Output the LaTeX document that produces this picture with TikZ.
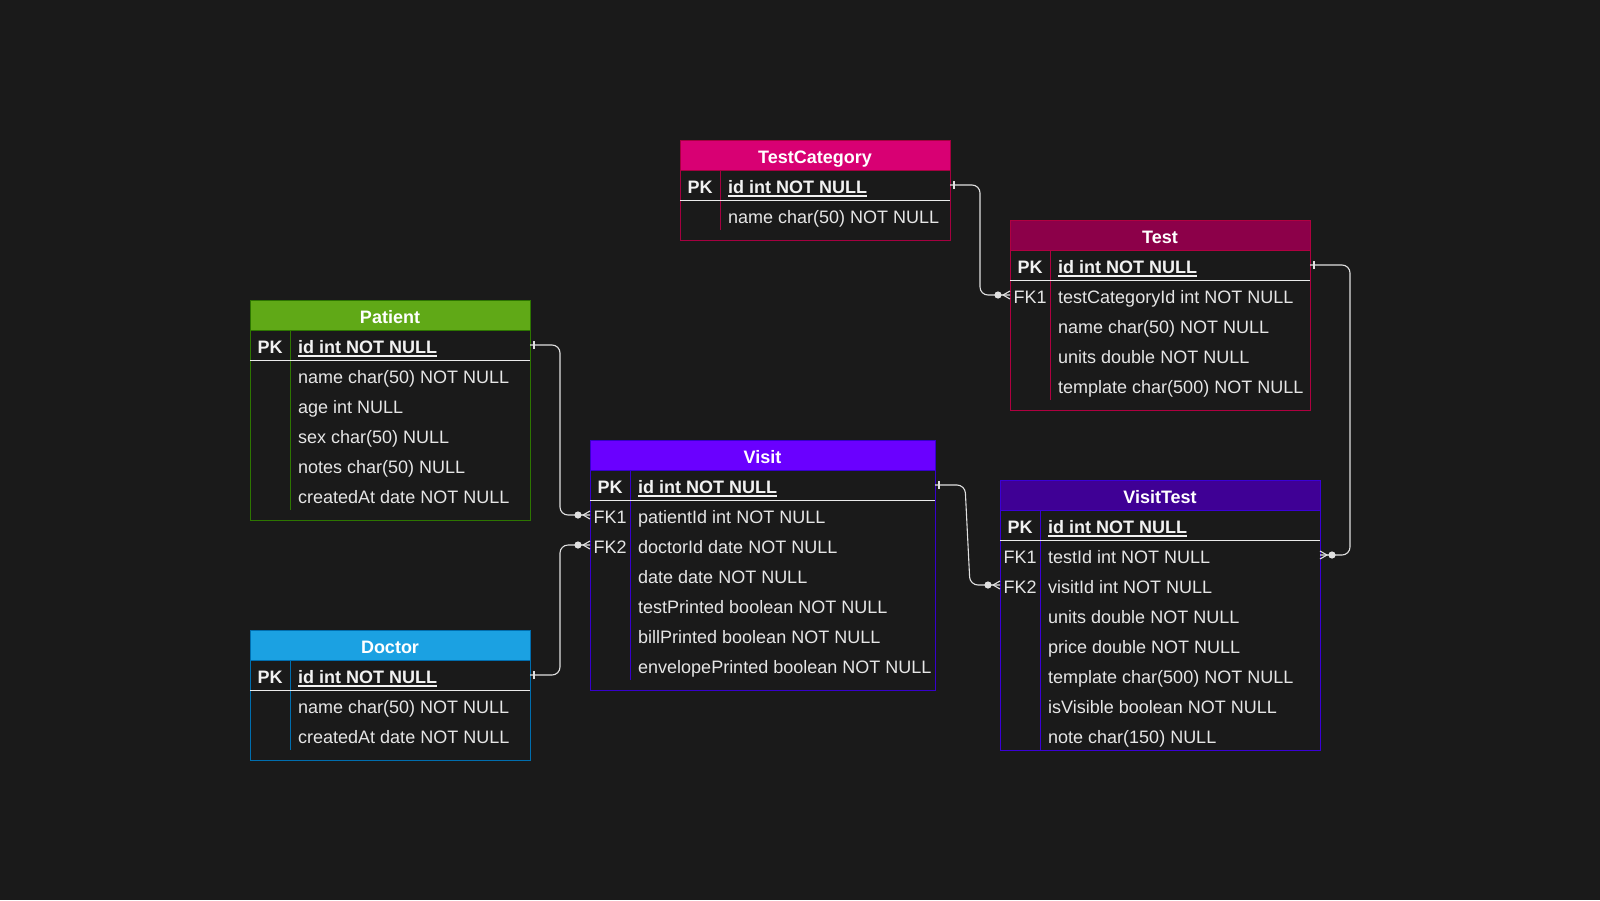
\documentclass[tikz,border=0pt]{standalone}
\usepackage{fontspec}
\setmainfont{Liberation Sans}
\usetikzlibrary{calc}
\definecolor{bgc}{HTML}{1A1A1A}
\definecolor{txtc}{HTML}{E6E6E6}
\definecolor{connc}{HTML}{E0E0E0}
\definecolor{tcfill}{HTML}{D80073}\definecolor{tcline}{HTML}{A50040}
\definecolor{testfill}{HTML}{8C0049}\definecolor{testline}{HTML}{B00040}
\definecolor{patientfill}{HTML}{60A917}\definecolor{patientline}{HTML}{2D7600}
\definecolor{doctorfill}{HTML}{1BA1E2}\definecolor{doctorline}{HTML}{006EAF}
\definecolor{visitfill}{HTML}{6A00FF}\definecolor{visitline}{HTML}{3700CC}
\definecolor{vtfill}{HTML}{3F0095}\definecolor{vtline}{HTML}{3A00D6}
\newcommand\pkul[1]{\setbox0=\hbox{#1}\rlap{\rule[-3.6pt]{\wd0}{1.8pt}}\box0}
\tikzset{
  rowbox/.style={minimum height=30pt, inner sep=0pt, outer sep=0pt, anchor=north west},
  hdrtxt/.style={anchor=base, inner sep=0pt, text=white, font=\fontsize{18}{21.6}\selectfont\bfseries},
  keytxt/.style={anchor=base, inner sep=0pt, text=txtc, font=\fontsize{18}{21.6}\selectfont},
  keybold/.style={anchor=base, inner sep=0pt, text=white!95!black, font=\fontsize{18}{21.6}\selectfont\bfseries},
  pktxt/.style={anchor=base west, inner sep=0pt, text=white!95!black, font=\fontsize{18}{21.6}\selectfont\bfseries},
  fldtxt/.style={anchor=base west, inner sep=0pt, text=txtc, font=\fontsize{18}{21.6}\selectfont},
  sepline/.style={draw=white!92!black, line width=1pt},
  conn/.style={draw=connc, line width=1.1pt, rounded corners=8pt},
  tickmark/.style={draw=connc, line width=1.1pt},
}
% #1 id, #2 x, #3 y, #4 width, #5 colour prefix, #6 title, #7 pk field, #8 rows, #9 height
\newcommand\ertable[9]{%
  \begin{scope}[shift={(#2,#3)}]
    \fill[#5fill] (0,0) rectangle (#4,30);
    \draw[#5line, line width=1pt] (0,0) rectangle (#4,#9);
    \draw[#5line, line width=1pt] (0,30) -- (#4,30);
    \node[hdrtxt] (#1) at ({#4/2},23.3) {#6};
    \node[rowbox, minimum width=#4pt] (#1pk) at (0,30) {};
    \node[keybold] at (20,53.3) {PK};
    \node[pktxt] at (48,53.3) {\pkul{#7}};
    \foreach \k/\f [count=\i] in {#8} {
      \node[rowbox, minimum width=#4pt] (#1r\i) at (0,{30+30*\i}) {};
      \node[keytxt] at (20,{53.3+30*\i}) {\k};
      \node[fldtxt] at (48,{53.3+30*\i}) {\f};
      \xdef\nrows{\i}
    }
    \draw[#5line, line width=1pt] (40,30) -- (40,{60+30*\nrows});
    \draw[sepline] (0,60) -- (#4,60);
  \end{scope}}
\newcommand\tickR[1]{\draw[tickmark] ([xshift=4pt,yshift=-4pt]#1) -- ([xshift=4pt,yshift=4pt]#1);}
\newcommand\manyL[1]{\draw[tickmark] ([yshift=4pt]#1) -- ([xshift=-7pt]#1) -- ([yshift=-4pt]#1);
  \fill[connc] ([xshift=-12pt]#1) circle (3.6pt);}
\newcommand\manyR[1]{\draw[tickmark] ([yshift=4pt]#1) -- ([xshift=7pt]#1) -- ([yshift=-4pt]#1);
  \fill[connc] ([xshift=12pt]#1) circle (3.6pt);}
\begin{document}
\begin{tikzpicture}[x=1pt,y=-1pt]
\fill[bgc] (0,0) rectangle (1600,900);
\useasboundingbox (0,0) rectangle (1600,900);

\ertable{tc}{680}{140}{270}{tc}{TestCategory}{id int NOT NULL}{/name char(50) NOT NULL}{100}
\ertable{test}{1010}{220}{300}{test}{Test}{id int NOT NULL}{FK1/testCategoryId int NOT NULL, /name char(50) NOT NULL, /units double NOT NULL, /template char(500) NOT NULL}{190}
\ertable{patient}{250}{300}{280}{patient}{Patient}{id int NOT NULL}{/name char(50) NOT NULL, /age int NULL, /sex char(50) NULL, /notes char(50) NULL, /createdAt date NOT NULL}{220}
\ertable{doctor}{250}{630}{280}{doctor}{Doctor}{id int NOT NULL}{/name char(50) NOT NULL, /createdAt date NOT NULL}{130}
\ertable{visit}{590}{440}{345}{visit}{Visit}{id int NOT NULL}{FK1/patientId int NOT NULL, FK2/doctorId date NOT NULL, /date date NOT NULL, /testPrinted boolean NOT NULL, /billPrinted boolean NOT NULL, /envelopePrinted boolean NOT NULL}{250}
\ertable{vt}{1000}{480}{320}{vt}{VisitTest}{id int NOT NULL}{FK1/testId int NOT NULL, FK2/visitId int NOT NULL, /units double NOT NULL, /price double NOT NULL, /template char(500) NOT NULL, /isVisible boolean NOT NULL, /note char(150) NULL}{270}

% connectors
\draw[conn] (tcpk.east) -- ++(30,0) |- (testr1.west);
\draw[conn] (testpk.east) -- ++(40,0) |- (vtr1.east);
\draw[conn] (patientpk.east) -- ++(30,0) |- (visitr1.west);
\draw[conn] (doctorpk.east) -- ++(30,0) |- (visitr2.west);
\draw[conn] (visitpk.east) -- ++(30,0) -- ($(vtr2.west)+(-30,0)$) -- (vtr2.west);

% end markers
\tickR{tcpk.east}
\tickR{testpk.east}
\tickR{patientpk.east}
\tickR{doctorpk.east}
\tickR{visitpk.east}
\manyL{testr1.west}
\manyR{vtr1.east}
\manyL{visitr1.west}
\manyL{visitr2.west}
\manyL{vtr2.west}
\end{tikzpicture}
\end{document}
